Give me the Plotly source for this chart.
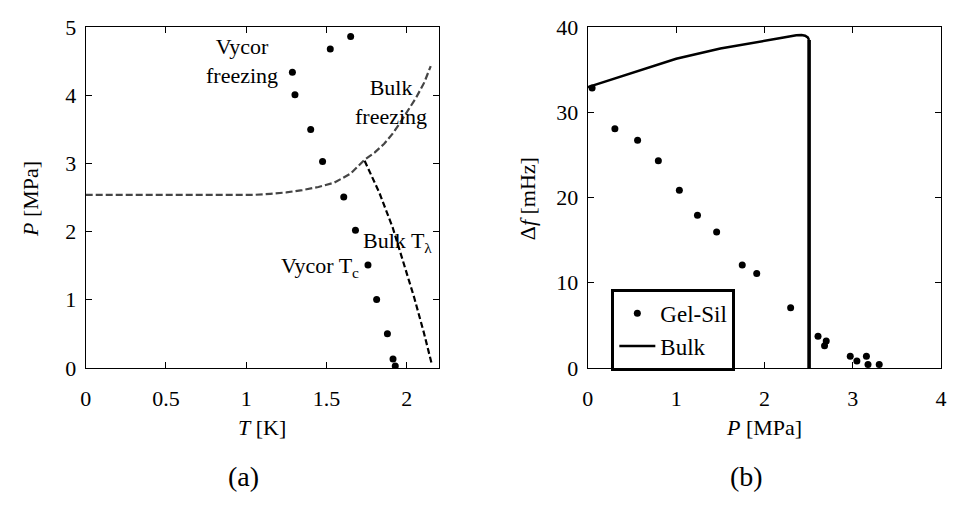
import plotly.graph_objects as go

# ---- (a) phase diagram: T [K] vs P [MPa] ----
vycor_T = [1.651, 1.524, 1.288, 1.304, 1.402, 1.476, 1.608, 1.681, 1.759, 1.813, 1.880, 1.915, 1.929]
vycor_P = [4.865, 4.679, 4.340, 4.010, 3.500, 3.030, 2.510, 2.020, 1.510, 1.005, 0.500, 0.130, 0.030]

melt_T = [0.0, 1.05, 1.15, 1.25, 1.35, 1.45, 1.55, 1.65, 1.74, 1.80, 1.86, 1.91, 1.96, 2.01, 2.06, 2.11, 2.15]
melt_P = [2.54, 2.54, 2.555, 2.575, 2.61, 2.655, 2.72, 2.85, 3.06, 3.16, 3.29, 3.43, 3.60, 3.78, 3.97, 4.19, 4.43]

lambda_T = [1.738, 1.830, 1.913, 1.974, 2.046, 2.107, 2.154]
lambda_P = [3.04, 2.57, 2.06, 1.60, 1.04, 0.52, 0.08]

# ---- (b) frequency shift: P [MPa] vs Δf [mHz] ----
gel_P = [0.048, 0.306, 0.563, 0.798, 1.036, 1.241, 1.458, 1.748, 1.912, 2.296,
         2.606, 2.699, 2.680, 2.971, 3.046, 3.154, 3.172, 3.299]
gel_df = [32.86, 28.09, 26.72, 24.33, 20.87, 17.93, 15.96, 12.09, 11.09, 7.07,
          3.72, 3.16, 2.60, 1.38, 0.82, 1.38, 0.41, 0.41]

bulk_P = [0.0, 0.5, 1.0, 1.5, 1.8, 2.0, 2.2, 2.36, 2.42, 2.46, 2.49, 2.505, 2.505]
bulk_df = [32.97, 34.65, 36.3, 37.5, 38.0, 38.35, 38.75, 39.05, 39.08, 39.0, 38.8, 38.5, 0.0]

FONT = "Liberation Serif, Times New Roman, serif"
FS = 22

fig = go.Figure()

fig.add_trace(go.Scatter(x=melt_T, y=melt_P, mode="lines", line=dict(color="#454545", width=2.2, dash="7px,3px"),
                         showlegend=False, xaxis="x", yaxis="y"))
fig.add_trace(go.Scatter(x=lambda_T, y=lambda_P, mode="lines", line=dict(color="black", width=2.2, dash="6px,3px"),
                         showlegend=False, xaxis="x", yaxis="y"))
fig.add_trace(go.Scatter(x=vycor_T, y=vycor_P, mode="markers", marker=dict(color="black", size=7),
                         showlegend=False, xaxis="x", yaxis="y"))

fig.add_trace(go.Scatter(x=gel_P, y=gel_df, mode="markers", marker=dict(color="black", size=7),
                         name="Gel-Sil", xaxis="x2", yaxis="y2"))
fig.add_trace(go.Scatter(x=bulk_P[:-1], y=bulk_df[:-1], mode="lines", line=dict(color="black", width=2.5),
                         name="Bulk", xaxis="x2", yaxis="y2"))
fig.add_trace(go.Scatter(x=bulk_P[-2:], y=bulk_df[-2:], mode="lines", line=dict(color="black", width=3.6),
                         showlegend=False, xaxis="x2", yaxis="y2"))

axis_common = dict(showline=True, linecolor="black", linewidth=1.3, mirror="ticks", ticks="inside",
                   ticklen=6, tickwidth=1.1, tickcolor="black", showgrid=False, zeroline=False,
                   tickfont=dict(family=FONT, size=FS, color="black"))

fig.update_layout(
    width=954, height=509, margin=dict(l=0, r=0, t=0, b=0),
    paper_bgcolor="white", plot_bgcolor="white",
    xaxis=dict(domain=[0.0846, 0.4594], range=[0, 2.2], tickvals=[0, 0.5, 1, 1.5, 2],
               ticktext=["0", "0.5", "1", "1.5", "2"], anchor="y", ticklabelstandoff=11, **axis_common),
    yaxis=dict(domain=[0.2646, 0.9686], range=[0, 5], dtick=1, anchor="x", ticklabelstandoff=4, **axis_common),
    xaxis2=dict(domain=[0.6177, 0.9927], range=[0, 4], dtick=1, anchor="y2", ticklabelstandoff=11, **axis_common),
    yaxis2=dict(domain=[0.2646, 0.9686], range=[0, 40], dtick=10, anchor="x2", ticklabelstandoff=4, **axis_common),
    legend=dict(x=0.6426, y=0.4283, xanchor="left", yanchor="top", bordercolor="black", borderwidth=3,
                bgcolor="white", font=dict(family=FONT, size=23, color="black"), itemwidth=36,
                tracegroupgap=0),
    font=dict(family=FONT, size=FS, color="black"),
)

annots = [
    # axis titles
    dict(text="<i>T</i> [K]", x=0.2715, y=0.142, xref="paper", yref="paper"),
    dict(text="<i>P</i> [MPa]", x=0.805, y=0.142, xref="paper", yref="paper"),
    dict(text="<i>P</i> [MPa]", x=0.0262, y=0.613, xref="paper", yref="paper", textangle=-90),
    dict(text="Δ<i>f</i> [mHz]", x=0.5530, y=0.615, xref="paper", yref="paper", textangle=-90),
    # panel labels
    dict(text="(a)", x=0.2526, y=0.0393, xref="paper", yref="paper", font=dict(family=FONT, size=28)),
    dict(text="(b)", x=0.7862, y=0.0393, xref="paper", yref="paper", font=dict(family=FONT, size=28)),
    # phase-line labels
    dict(text="Vycor<br>freezing", x=0.973, y=4.50, xref="x", yref="y"),
    dict(text="Bulk<br>freezing", x=1.902, y=3.90, xref="x", yref="y"),
    dict(text="Bulk T<sub>λ</sub>", x=1.945, y=1.85, xref="x", yref="y"),
    dict(text="Vycor T<sub>c</sub>", x=1.458, y=1.48, xref="x", yref="y"),
]
for a in annots:
    a.setdefault("font", dict(family=FONT, size=FS, color="black"))
    a["font"].setdefault("color", "black")
    fig.add_annotation(showarrow=False, xanchor="center", yanchor="middle", **a)

fig.write_html("out.html")
